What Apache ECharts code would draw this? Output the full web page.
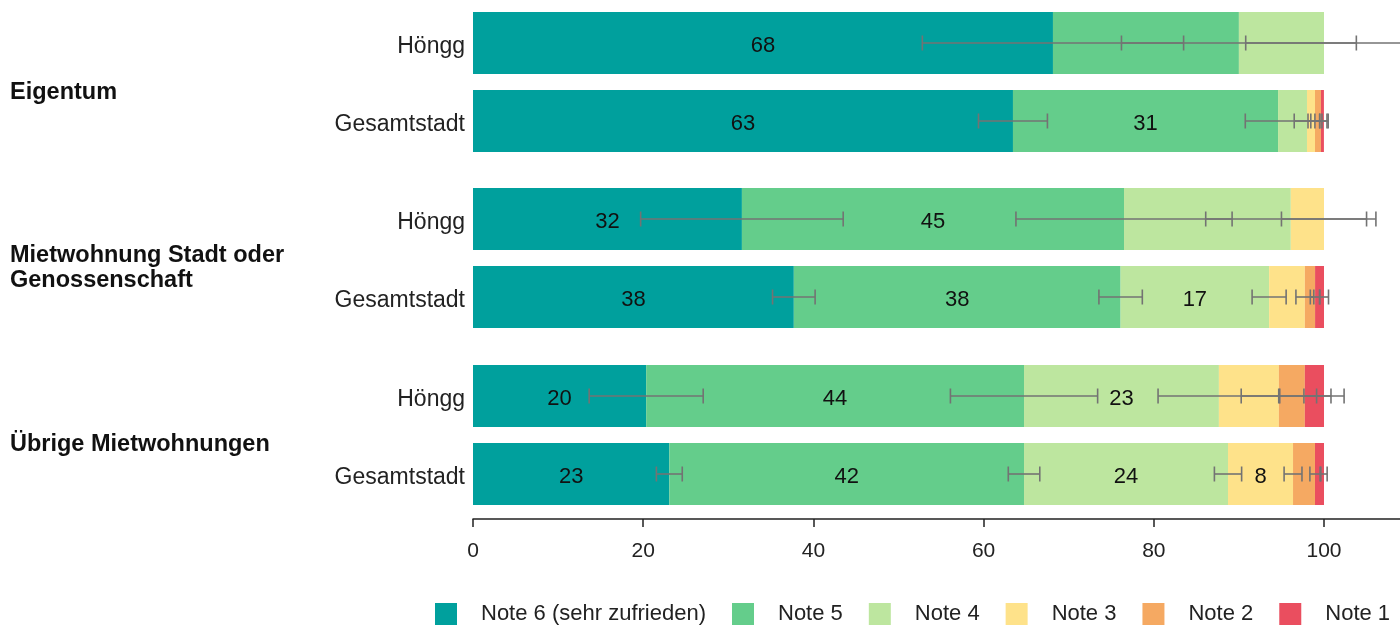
<!DOCTYPE html>
<html>
<head>
<meta charset="utf-8">
<script src="https://cdn.jsdelivr.net/npm/echarts@6/dist/echarts.min.js"></script>
<style>
html,body{margin:0;padding:0;background:#fff;}
#chart{width:1400px;height:627px;}
</style>
</head>
<body>
<div id="chart"></div>
<script>
// ---- Data ----
const groupNames = ['Eigentum', 'Mietwohnung Stadt oder\nGenossenschaft', 'Übrige Mietwohnungen'];
const rowNames = ['Höngg', 'Gesamtstadt'];
const seriesNames = ['Note 6 (sehr zufrieden)', 'Note 5', 'Note 4', 'Note 3', 'Note 2', 'Note 1'];
const seriesColors = ['#00a09d', '#64cd8b', '#bde69f', '#fee28a', '#f5a962', '#ea4e5f'];
const tickValues = [0, 20, 40, 60, 80, 100];

// rows: Eigentum-Höngg, Eigentum-Gesamtstadt, Miet-Höngg, Miet-Gesamtstadt, Übrige-Höngg, Übrige-Gesamtstadt
const note6 = [68.15, 63.45, 31.6, 37.7, 20.35, 23.07];
const note5 = [21.85, 31.15, 44.9, 38.4, 44.4, 41.68];
const note4 = [10.0, 3.4, 19.6, 17.45, 22.9, 23.97];
const note3 = [0, 0.94, 3.9, 4.2, 7.05, 7.64];
const note2 = [0, 0.7, 0, 1.2, 3.05, 2.58];
const note1 = [0, 0.35, 0, 1.05, 2.25, 1.06];

// confidence interval half-widths (drawn at the end of each segment)
const ci6 = [15.35, 4.05, 11.9, 2.5, 6.7, 1.52];
const ci5 = [13.8, 3.85, 12.7, 2.55, 8.65, 1.85];
const ci4 = [9.2, 1.5, 10.0, 2.0, 7.15, 1.6];
const ci3 = [null, 0.82, 5.0, 1.05, 4.43, 1.05];
const ci2 = [null, 0.71, null, 0.56, 3.07, 0.6];
const ci1 = [null, 0.5, null, 0.53, 2.36, 0.37];

// whether the value label is printed in the segment
const show6 = [true, true, true, true, true, true];
const show5 = [false, true, true, true, true, true];
const show4 = [false, false, false, true, true, true];
const show3 = [false, false, false, false, false, true];
const show2 = [false, false, false, false, false, false];
const show1 = [false, false, false, false, false, false];

// ---- Build ----
const values = [note6, note5, note4, note3, note2, note1];
const cis = [ci6, ci5, ci4, ci3, ci2, ci1];
const shows = [show6, show5, show4, show3, show2, show1];

const FONT = '"Liberation Sans", Arial, Helvetica, sans-serif';
const XMAX = 108.93;
const gridTops = [4, 180, 357];
const grids = [], xAxes = [], yAxes = [], series = [];

gridTops.forEach((t, g) => {
  grids.push({left: 473, right: 0, top: t, height: 156});
  const last = g === gridTops.length - 1;
  xAxes.push({
    gridIndex: g, type: 'value', min: 0, max: XMAX, interval: 20,
    show: last, position: 'bottom', offset: 6,
    splitLine: {show: false},
    axisLine: {show: true, lineStyle: {color: '#222', width: 1.5}},
    axisTick: {show: true, length: 8, customValues: tickValues, lineStyle: {color: '#222', width: 1.5}},
    axisLabel: {customValues: tickValues, color: '#222', fontSize: 21, fontFamily: FONT, margin: 22}
  });
  yAxes.push({
    gridIndex: g, type: 'category', data: rowNames, inverse: true,
    axisLine: {show: false}, axisTick: {show: false},
    axisLabel: {
      margin: 8, align: 'right',
      formatter: v => '{s|}\n{a|' + v + '}',
      rich: {
        s: {height: 7, lineHeight: 7, fontSize: 7},
        a: {color: '#222', fontSize: 23, fontFamily: FONT, lineHeight: 26, align: 'right'}
      }
    }
  });
  values.forEach((arr, s) => {
    series.push({
      type: 'bar', name: seriesNames[s], stack: 'g' + g,
      xAxisIndex: g, yAxisIndex: g, barWidth: 62,
      itemStyle: {color: seriesColors[s]},
      emphasis: {disabled: true},
      data: [0, 1].map(r => {
        const i = g * 2 + r;
        return {
          value: arr[i],
          label: {
            show: shows[s][i], position: 'inside', color: '#111',
            fontSize: 22, fontFamily: FONT, offset: [0, 3],
            formatter: p => Math.round(p.value)
          }
        };
      })
    });
  });
  // error bars at each cumulative segment end
  const eb = [];
  [0, 1].forEach(r => {
    const i = g * 2 + r;
    let cum = 0;
    values.forEach((arr, s) => {
      cum += arr[i];
      if (cis[s][i] != null) eb.push([cum, r, cis[s][i]]);
    });
  });
  series.push({
    type: 'custom', name: 'ci', xAxisIndex: g, yAxisIndex: g, z: 10, clip: false,
    silent: true,
    renderItem: (params, api) => {
      const c = api.value(0), cat = api.value(1), e = api.value(2);
      const p1 = api.coord([c - e, cat]);
      const p2 = api.coord([c + e, cat]);
      const h = 7.5;
      const st = {stroke: '#737373', lineWidth: 1.6};
      return {type: 'group', children: [
        {type: 'line', shape: {x1: p1[0], y1: p1[1], x2: p2[0], y2: p2[1]}, style: st},
        {type: 'line', shape: {x1: p1[0], y1: p1[1] - h, x2: p1[0], y2: p1[1] + h}, style: st},
        {type: 'line', shape: {x1: p2[0], y1: p2[1] - h, x2: p2[0], y2: p2[1] + h}, style: st}
      ]};
    },
    data: eb
  });
});

const groupLabelY = [92, 268, 444];
const graphics = groupNames.map((txt, g) => ({
  type: 'text', left: 10, top: groupLabelY[g] - (txt.includes('\n') ? 25 : 12),
  style: {text: txt, font: 'bold 23.5px ' + FONT, fill: '#111', lineHeight: 25}
}));

const chart = echarts.init(document.getElementById('chart'), null, {renderer: 'canvas'});
chart.setOption({
  animation: false,
  backgroundColor: '#fff',
  grid: grids, xAxis: xAxes, yAxis: yAxes, series: series,
  graphic: graphics,
  legend: {
    data: seriesNames, left: 435, top: 603, padding: 0, width: 980,
    itemWidth: 22, itemHeight: 22, itemGap: 26,
    icon: 'rect',
    textStyle: {fontSize: 22, color: '#222', fontFamily: FONT, padding: [2, 0, 0, 19]}
  }
});
</script>
</body>
</html>
